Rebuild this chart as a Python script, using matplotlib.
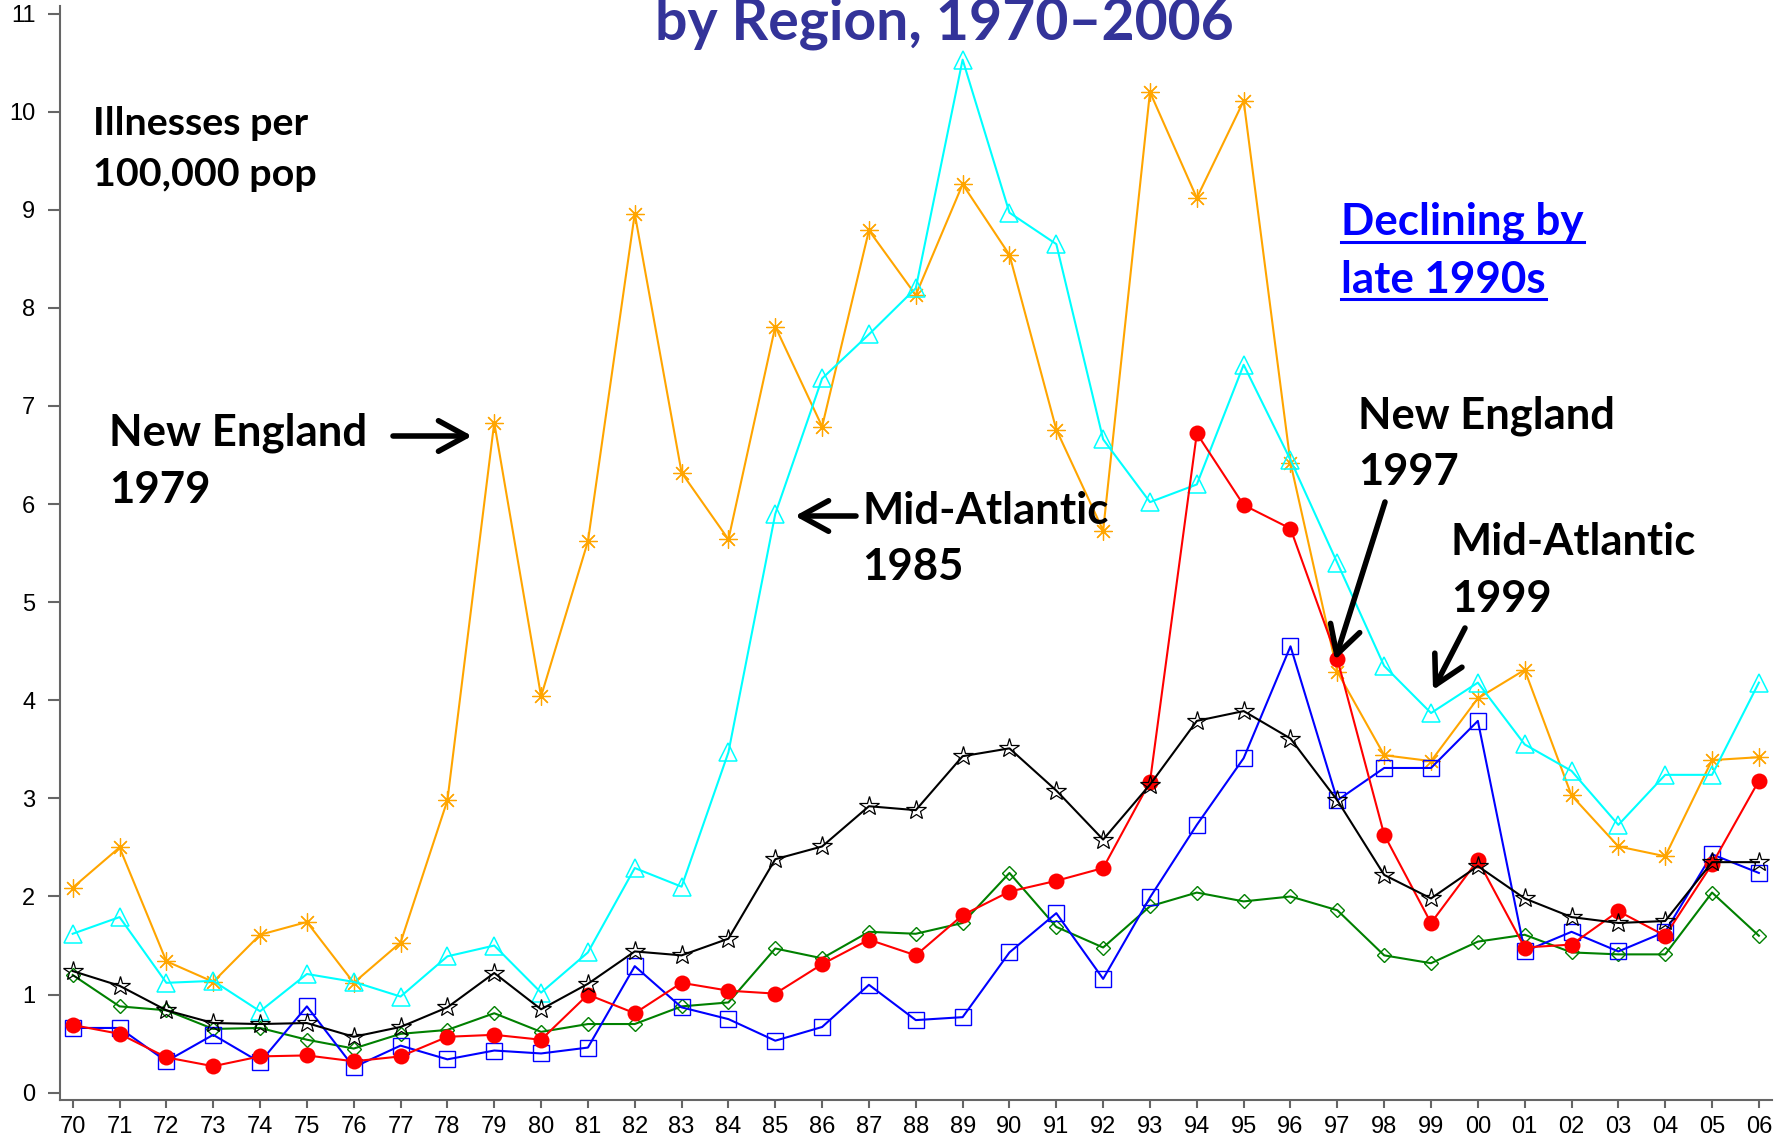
import matplotlib
matplotlib.use("Agg")
import matplotlib.pyplot as plt
from matplotlib.lines import Line2D

# ── data (illnesses per 100,000 pop) ─────────────────────────────────────────
years = ["70", "71", "72", "73", "74", "75", "76", "77", "78", "79",
         "80", "81", "82", "83", "84", "85", "86", "87", "88", "89",
         "90", "91", "92", "93", "94", "95", "96", "97", "98", "99",
         "00", "01", "02", "03", "04", "05", "06"]

new_england = [2.09, 2.50, 1.34, 1.13, 1.61, 1.74, 1.12, 1.53, 2.98, 6.83,
               4.04, 5.62, 8.96, 6.32, 5.64, 7.81, 6.79, 8.79, 8.13, 9.26,
               8.54, 6.76, 5.73, 10.20, 9.12, 10.11, 6.42, 4.29, 3.44, 3.38,
               4.02, 4.31, 3.03, 2.51, 2.41, 3.39, 3.42]
mid_atlantic = [1.62, 1.79, 1.12, 1.14, 0.83, 1.21, 1.13, 0.98, 1.39, 1.50,
                1.02, 1.43, 2.29, 2.10, 3.47, 5.90, 7.28, 7.73, 8.20, 10.53,
                8.97, 8.65, 6.66, 6.02, 6.20, 7.42, 6.45, 5.40, 4.35, 3.87,
                4.18, 3.55, 3.28, 2.73, 3.24, 3.24, 4.18]
region_green = [1.20, 0.88, 0.84, 0.65, 0.66, 0.54, 0.45, 0.60, 0.64, 0.81,
                0.62, 0.70, 0.70, 0.88, 0.92, 1.47, 1.37, 1.64, 1.62, 1.73,
                2.24, 1.69, 1.48, 1.90, 2.04, 1.95, 2.00, 1.86, 1.40, 1.32,
                1.54, 1.61, 1.43, 1.41, 1.41, 2.04, 1.60]
region_blue = [0.66, 0.66, 0.32, 0.59, 0.31, 0.88, 0.26, 0.48, 0.34, 0.43,
               0.40, 0.46, 1.29, 0.87, 0.75, 0.53, 0.67, 1.10, 0.74, 0.77,
               1.43, 1.83, 1.16, 1.99, 2.73, 3.41, 4.55, 2.98, 3.31, 3.31,
               3.79, 1.44, 1.64, 1.44, 1.64, 2.43, 2.24]
region_red = [0.69, 0.60, 0.36, 0.27, 0.37, 0.38, 0.32, 0.37, 0.57, 0.59,
              0.54, 1.00, 0.81, 1.12, 1.04, 1.01, 1.31, 1.56, 1.40, 1.81,
              2.05, 2.16, 2.29, 3.17, 6.72, 5.99, 5.75, 4.42, 2.63, 1.73,
              2.37, 1.48, 1.51, 1.85, 1.60, 2.33, 3.18]
region_black = [1.24, 1.09, 0.84, 0.71, 0.70, 0.71, 0.57, 0.67, 0.87, 1.22,
                0.85, 1.11, 1.44, 1.40, 1.57, 2.38, 2.51, 2.92, 2.88, 3.43,
                3.51, 3.08, 2.58, 3.14, 3.79, 3.89, 3.61, 2.98, 2.22, 1.98,
                2.31, 1.98, 1.79, 1.73, 1.75, 2.35, 2.35]

# ── figure ────────────────────────────────────────────────────────────────────
W, H = 1788, 1142
fig = plt.figure(figsize=(W / 100, H / 100), dpi=100)
ax = fig.add_axes([60 / W, 1 - 1100 / H, (1772 - 60) / W, (1100 - 5.7) / H])
xs = list(range(len(years)))

lw = 1.5
ax.plot(xs, new_england, color="#FFA500", lw=lw, marker=(8, 2, 0), ms=13, mew=0.9)
ax.plot(xs, mid_atlantic, color="#00FFFF", lw=lw, marker="^", ms=12.5, mfc="none", mew=1.1)
ax.plot(xs, region_green, color="#008000", lw=lw, marker="D", ms=7.5, mfc="none", mew=1.0)
ax.plot(xs, region_blue, color="#0000FF", lw=lw, marker="s", ms=11.5, mfc="none", mew=1.0)
ax.plot(xs, region_red, color="#FF0000", lw=lw, marker="o", ms=11.5, mew=0)
ax.plot(xs, region_black, color="black", lw=lw, marker="*", ms=15, mfc="none", mew=0.9)

ax.set_xlim(-0.271, 36.28)
ax.set_ylim(-0.0744, 11.08)
ax.set_xticks(xs)
ax.set_xticklabels(years)
ax.set_yticks(range(12))

for s in ["top", "right"]:
    ax.spines[s].set_visible(False)
for s in ["left", "bottom"]:
    ax.spines[s].set_color("#666666")
    ax.spines[s].set_linewidth(1.5)
ax.tick_params(axis="both", colors="#666666", width=1.5, labelcolor="black",
               labelsize=17)
ax.tick_params(axis="y", length=8.8, pad=9)
ax.tick_params(axis="x", length=5.8, pad=6)
for t in ax.get_xticklabels() + ax.get_yticklabels():
    t.set_family("Liberation Sans")

# ── texts (positions in figure pixels, baselines from top) ──────────────────
renderer = fig.canvas.get_renderer()


def label(lines, x, baselines, width, color="black", ha="left", underline=False):
    texts = [fig.text(x / W, 1 - yb / H, s, color=color, fontsize=30,
                      fontweight="bold", family="Lato", ha=ha, va="baseline")
             for s, yb in zip(lines, baselines)]
    w0 = texts[0].get_window_extent(renderer).width
    for t in texts:
        t.set_fontsize(30 * width / w0)
    if underline:
        for t, yb in zip(texts, baselines):
            bb = t.get_window_extent(renderer)
            fig.add_artist(Line2D([bb.x0 / W, bb.x1 / W], [1 - (yb + 6.5) / H] * 2,
                                  color=color, lw=2.2))


def arrow(tail, tip):
    ax.annotate("", xy=(tip[0], H - tip[1]), xytext=(tail[0], H - tail[1]),
                xycoords="figure pixels", textcoords="figure pixels",
                annotation_clip=False,
                arrowprops=dict(arrowstyle="->,head_length=1.0,head_width=0.55",
                                lw=4, color="black", shrinkA=0, shrinkB=0,
                                mutation_scale=20))


label(["by Region, 1970\u20132006"], 944, [39.5], 578, color="#333399", ha="center")
label(["Illnesses per", "100,000 pop"], 93, [134.6, 185.5], 215)
label(["New England", "1979"], 109, [445.5, 503], 258)
label(["Mid-Atlantic", "1985"], 862, [524.5, 580], 246)
label(["Declining by", "late 1990s"], 1341, [235, 292.7], 243, color="#0000FF",
      underline=True)
label(["New England", "1997"], 1358, [428, 485], 257)
label(["Mid-Atlantic", "1999"], 1451, [555, 612], 245)

arrow((393, 436), (472, 436))
arrow((856, 516), (795, 516))
arrow((1385, 502), (1335, 660))
arrow((1465, 628), (1433, 690))

fig.savefig("out.png", dpi=100)
